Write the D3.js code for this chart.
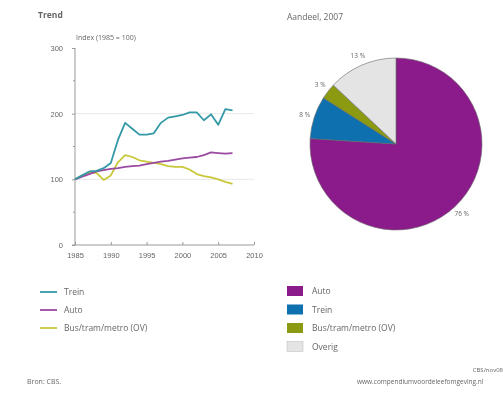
<!DOCTYPE html>
<html>
<head>
<meta charset="utf-8">
<script src="https://cdn.jsdelivr.net/npm/d3@7"></script>
<style>
  body { margin: 0; background: #fff; }
  svg { display: block; font-family: "Open Sans", sans-serif; filter: blur(0.35px); }
  text { fill: #666; }
</style>
</head>
<body>
<svg id="chart" width="503" height="393"></svg>
<script>
// Data
const years = d3.range(1985, 2008);
const trein = [100, 106, 112, 113, 117, 125, 160, 186, 177, 168, 168, 170, 186, 194, 196, 198, 202, 202, 190, 199, 183, 207, 205];
const auto = [100, 104, 108, 112, 114, 116, 117, 119, 120, 121, 123, 125, 127, 128, 130, 132, 133, 134, 137, 141, 140, 139, 140];
const bus = [100, 106, 110, 110, 99, 106, 126, 137, 134, 129, 127, 125, 123, 120, 119, 119, 115, 108, 105, 103, 100, 96, 93];

const lineSeries = [
  { name: "Trein", values: trein, color: "#3399a6" },
  { name: "Auto", values: auto, color: "#9a4aa0" },
  { name: "Bus/tram/metro (OV)", values: bus, color: "#c9c83a" }
];

const xTicks = [1985, 1990, 1995, 2000, 2005, 2010];
const yTicks = [0, 100, 200, 300];
const yMinorTicks = [50, 150, 250];

const pieLabels = ["Auto", "Trein", "Bus/tram/metro (OV)", "Overig"];
const pieValues = [76, 8, 3, 13];
const pieColors = ["#8b1a8b", "#0f70b0", "#8c9a12", "#e4e4e4"];

const svg = d3.select("#chart");
const fs = 7.5;
const legFs = 8.5;

// Left chart: trend
const x = d3.scaleLinear().domain([1985, 2010]).range([75, 254]);
const y = d3.scaleLinear().domain([0, 300]).range([245, 48]);

svg.append("text").attr("x", 38).attr("y", 18)
  .attr("font-size", 8.5).attr("font-weight", "bold").attr("fill", "#555").text("Trend");
svg.append("text").attr("x", 76).attr("y", 40)
  .attr("font-size", 7).text("Index (1985 = 100)");

// gridlines
svg.append("g").selectAll("line")
  .data([100, 200])
  .join("line")
  .attr("x1", x(1985)).attr("x2", x(2010))
  .attr("y1", d => y(d)).attr("y2", d => y(d))
  .attr("stroke", "#e8e8e8").attr("stroke-width", 1);

const yAxis = svg.append("g")
  .attr("transform", `translate(${x(1985)},0)`)
  .call(d3.axisLeft(y).tickValues(yTicks).tickSize(3).tickPadding(9));
yAxis.selectAll("text").attr("font-size", fs).attr("fill", "#666");
yAxis.selectAll("line, path").attr("stroke", "#999");
yAxis.select(".domain").attr("d", `M0,${y(0)}V${y(300)}`);

svg.append("g").selectAll("line")
  .data(yMinorTicks)
  .join("line")
  .attr("x1", x(1985) - 2).attr("x2", x(1985))
  .attr("y1", d => y(d)).attr("y2", d => y(d))
  .attr("stroke", "#999");

const xAxis = svg.append("g")
  .attr("transform", `translate(0,${y(0)})`)
  .call(d3.axisBottom(x).tickValues(xTicks).tickFormat(d3.format("d")).tickSize(-3).tickPadding(8));
xAxis.selectAll("text").attr("font-size", fs).attr("fill", "#666");
xAxis.selectAll("line, path").attr("stroke", "#999");
xAxis.select(".domain").attr("d", `M${x(1985) - 3},0H${x(2010)}`);

const line = d3.line().x((d, i) => x(years[i])).y(d => y(d));

svg.append("g").selectAll("path")
  .data(lineSeries.slice().reverse())
  .join("path")
  .attr("d", d => line(d.values))
  .attr("fill", "none")
  .attr("stroke", d => d.color)
  .attr("stroke-width", 1.8)
  .attr("stroke-linejoin", "round");

// left legend
const lleg = svg.append("g").selectAll("g")
  .data(lineSeries)
  .join("g")
  .attr("transform", (d, i) => `translate(40,${292 + i * 18})`);
lleg.append("line").attr("x1", 0).attr("x2", 17)
  .attr("stroke", d => d.color).attr("stroke-width", 1.8);
lleg.append("text").attr("x", 24).attr("y", 3)
  .attr("font-size", legFs).text(d => d.name);

// Right chart: pie
svg.append("text").attr("x", 287).attr("y", 20)
  .attr("font-size", 8.5).attr("fill", "#555").text("Aandeel, 2007");

const cx = 396, cy = 144, r = 86;
const pie = d3.pie().sort(null);
const arcs = pie(pieValues);
const arc = d3.arc().innerRadius(0).outerRadius(r);
const labelArc = d3.arc().innerRadius(r + 10).outerRadius(r + 10);

const pg = svg.append("g").attr("transform", `translate(${cx},${cy})`);
pg.selectAll("path")
  .data(arcs)
  .join("path")
  .attr("d", arc)
  .attr("fill", (d, i) => pieColors[i])
  .attr("stroke", "#666")
  .attr("stroke-width", 0.6);

pg.selectAll("text")
  .data(arcs)
  .join("text")
  .attr("transform", d => `translate(${labelArc.centroid(d)})`)
  .attr("text-anchor", "middle")
  .attr("dy", "0.35em")
  .attr("font-size", 6.5)
  .text(d => d.data + " %");

// right legend
const rleg = svg.append("g").selectAll("g")
  .data(pieLabels)
  .join("g")
  .attr("transform", (d, i) => `translate(287,${286 + i * 18.5})`);
rleg.append("rect").attr("width", 16).attr("height", 10)
  .attr("fill", (d, i) => pieColors[i])
  .attr("stroke", (d, i) => i === 3 ? "#bbb" : "none")
  .attr("stroke-width", 0.5);
rleg.append("text").attr("x", 25).attr("y", 8)
  .attr("font-size", legFs).text(d => d);

// footer
svg.append("text").attr("x", 27).attr("y", 384)
  .attr("font-size", 7).text("Bron: CBS.");
svg.append("text").attr("x", 503).attr("y", 372).attr("text-anchor", "end")
  .attr("font-size", 6).text("CBS/nov08");
svg.append("text").attr("x", 357).attr("y", 384)
  .attr("font-size", 6.5).text("www.compendiumvoordeleefomgeving.nl");
</script>
</body>
</html>
